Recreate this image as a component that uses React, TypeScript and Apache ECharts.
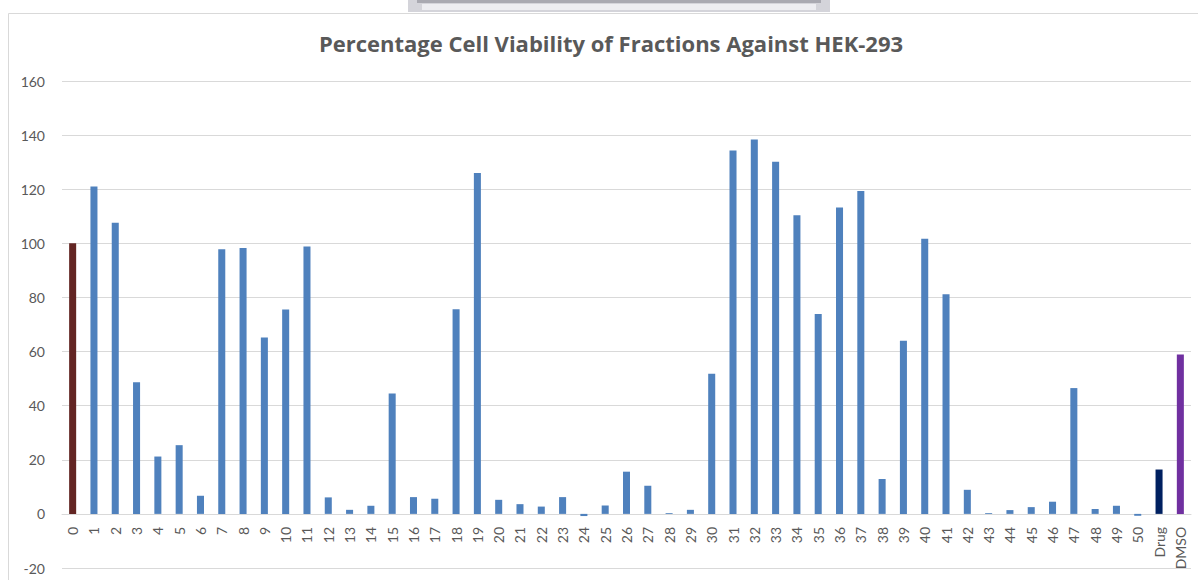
import React, { useEffect, useRef } from "react";
import * as echarts from "echarts";

const categories: string[] = [
  "0", "1", "2", "3", "4", "5", "6", "7", "8", "9",
  "10", "11", "12", "13", "14", "15", "16", "17", "18", "19",
  "20", "21", "22", "23", "24", "25", "26", "27", "28", "29",
  "30", "31", "32", "33", "34", "35", "36", "37", "38", "39",
  "40", "41", "42", "43", "44", "45", "46", "47", "48", "49",
  "50", "Drug", "DMSO",
];

const viability: number[] = [
  100, 121, 107.6, 48.7, 21.2, 25.4, 6.7, 97.8, 98.3, 65.2,
  75.5, 98.8, 6.1, 1.5, 3.0, 44.5, 6.2, 5.6, 75.6, 126,
  5.2, 3.6, 2.7, 6.2, -0.8, 3.1, 15.6, 10.4, 0.3, 1.5,
  51.8, 134.3, 138.4, 130.2, 110.4, 73.9, 113.2, 119.3, 12.9, 64,
  101.7, 81.2, 8.9, 0.3, 1.4, 2.5, 4.5, 46.5, 1.8, 3.0,
  -0.7, 16.4, 58.9,
];

const yTicks = { min: -20, max: 160, interval: 20 };

const TITLE = "Percentage Cell Viability of Fractions Against HEK-293";

const DEFAULT_COLOR = "#4f81bd";
const specialColors: Record<string, string> = {
  "0": "#632523",
  Drug: "#002060",
  DMSO: "#7030a0",
};

const LABEL_FONT = "Lato, 'Open Sans', sans-serif";

const GRID_TOP = 81;
const GRID_BOTTOM = 12;
const CHART_H = 580;

export default function App() {
  const ref = useRef<HTMLDivElement>(null);

  useEffect(() => {
    document.body.style.margin = "0";
    if (!ref.current) return;
    const chart = echarts.init(ref.current, null, { renderer: "svg" });

    const data = categories.map((c, i) => ({
      value: viability[i],
      itemStyle: { color: specialColors[c] ?? DEFAULT_COLOR },
    }));

    // distance from grid bottom (value = min) up to value 0
    const plotH = CHART_H - GRID_TOP - GRID_BOTTOM;
    const zeroOffset = (plotH * (0 - yTicks.min)) / (yTicks.max - yTicks.min);

    chart.setOption({
      animation: false,
      backgroundColor: "#ffffff",
      title: {
        text: TITLE,
        left: 606,
        top: 27,
        textAlign: "center",
        textStyle: {
          color: "#595959",
          fontSize: 22,
          fontWeight: "bold",
          fontFamily: "'Open Sans', sans-serif",
        },
      },
      grid: {
        left: 62,
        right: 7,
        top: GRID_TOP,
        bottom: GRID_BOTTOM,
        containLabel: false,
        outerBoundsMode: "none",
      },
      xAxis: {
        type: "category",
        data: categories,
        boundaryGap: true,
        position: "bottom",
        offset: -zeroOffset,
        axisLine: {
          show: true,
          onZero: false,
          lineStyle: { color: "#d9d9d9", width: 1 },
        },
        axisTick: { show: false },
        axisLabel: {
          rotate: 90,
          interval: 0,
          margin: 13,
          color: "#595959",
          fontSize: 14,
          fontFamily: LABEL_FONT,
        },
        splitLine: { show: false },
      },
      yAxis: {
        type: "value",
        min: yTicks.min,
        max: yTicks.max,
        interval: yTicks.interval,
        axisLine: { show: false },
        axisTick: { show: false },
        axisLabel: {
          margin: 17,
          color: "#595959",
          fontSize: 14,
          fontFamily: LABEL_FONT,
        },
        splitLine: { show: true, lineStyle: { color: "#d9d9d9", width: 1 } },
      },
      series: [
        {
          type: "bar",
          data,
          barWidth: "33%",
        },
      ],
      graphic: [
        {
          type: "rect",
          silent: true,
          shape: { x: 8.5, y: 13.5, width: 1300, height: 700 },
          style: { fill: "none", stroke: "#d9d9d9", lineWidth: 1 },
        },
        {
          type: "rect",
          silent: true,
          shape: { x: 408, y: 0, width: 422, height: 12 },
          style: { fill: "#d4d4da" },
        },
        {
          type: "rect",
          silent: true,
          shape: { x: 417, y: 0, width: 404, height: 3 },
          style: { fill: "#a9a9b1" },
        },
        {
          type: "rect",
          silent: true,
          shape: { x: 422, y: 4, width: 394, height: 6 },
          style: { fill: "#ededf1" },
        },
      ],
    });

    return () => {
      chart.dispose();
    };
  }, []);

  return <div ref={ref} style={{ width: 1198, height: 580 }} />;
}
